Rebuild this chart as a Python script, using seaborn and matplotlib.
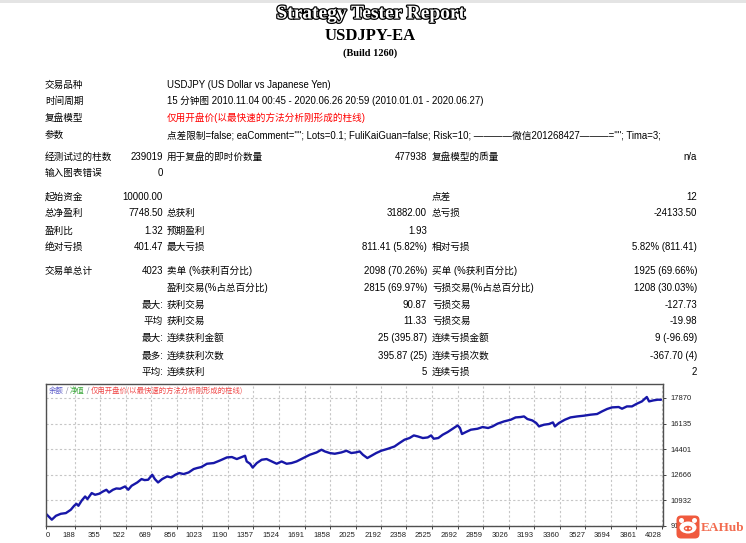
import pandas as pd
import matplotlib
matplotlib.use('Agg')
import matplotlib.pyplot as plt
import matplotlib.patheffects as pe
from matplotlib.patches import FancyBboxPatch, Ellipse, Circle, Rectangle
import seaborn as sns

# 报告表头
title = 'Strategy Tester Report'
ea_name = 'USDJPY-EA'
build = '(Build 1260)'

# 基本信息 (标签, 内容)
info_labels = ['交易品种', '时间周期', '复盘模型', '参数']
info_values = ['USDJPY (US Dollar vs Japanese Yen)',
               '15 分钟图 2010.11.04 00:45 - 2020.06.26 20:59 (2010.01.01 - 2020.06.27)',
               '仅用开盘价(以最快速的方法分析刚形成的柱线)',
               '点差限制=false; eaComment=""; Lots=0.1; FuliKaiGuan=false; Risk=10; ————微信201268427———=""; Tima=3;']

# 统计表 六列: 标签1, 数值1, 标签2, 数值2, 标签3, 数值3
stat_rows = [
    ['经测试过的柱数', '239019', '用于复盘的即时价数量', '477938', '复盘模型的质量', 'n/a'],
    ['输入图表错误', '0', '', '', '', ''],
    ['起始资金', '10000.00', '', '', '点差', '12'],
    ['总净盈利', '7748.50', '总获利', '31882.00', '总亏损', '-24133.50'],
    ['盈利比', '1.32', '预期盈利', '1.93', '', ''],
    ['绝对亏损', '401.47', '最大亏损', '811.41 (5.82%)', '相对亏损', '5.82% (811.41)'],
    ['交易单总计', '4023', '卖单 (%获利百分比)', '2098 (70.26%)', '买单 (%获利百分比)', '1925 (69.66%)'],
    ['', '', '盈利交易(%占总百分比)', '2815 (69.97%)', '亏损交易(%占总百分比)', '1208 (30.03%)'],
    ['', '最大:', '获利交易', '90.87', '亏损交易', '-127.73'],
    ['', '平均', '获利交易', '11.33', '亏损交易', '-19.98'],
    ['', '最大:', '连续获利金额', '25 (395.87)', '连续亏损金额', '9 (-96.69)'],
    ['', '最多:', '连续获利次数', '395.87 (25)', '连续亏损次数', '-367.70 (4)'],
    ['', '平均:', '连续获利', '5', '连续亏损', '2'],
]

# 余额曲线 (交易单序号, 余额) - 从图上读取
trade_no = [0, 38, 65, 97, 130, 162, 184, 199, 212, 234, 256, 271, 299, 321, 347, 373,
            395, 412, 438, 460, 485, 517, 538, 560, 597, 625, 645, 668, 695, 712, 733,
            760, 792, 820, 846, 872, 900, 933, 966, 988, 1016, 1053, 1097, 1139, 1183,
            1216, 1248, 1281, 1302, 1313, 1335, 1352, 1379, 1411, 1443, 1476, 1509,
            1541, 1574, 1606, 1639, 1683, 1726, 1770, 1802, 1824, 1856, 1889, 1932,
            1965, 1997, 2026, 2052, 2073, 2102, 2128, 2160, 2193, 2237, 2280, 2312,
            2345, 2378, 2406, 2432, 2465, 2497, 2519, 2536, 2566, 2595, 2628, 2660,
            2693, 2708, 2721, 2747, 2779, 2823, 2856, 2892, 2921, 2953, 2996, 3040,
            3072, 3105, 3127, 3149, 3181, 3207, 3225, 3257, 3290, 3316, 3329, 3355,
            3394, 3431, 3475, 3518, 3561, 3605, 3637, 3670, 3702, 3746, 3768, 3800,
            3833, 3865, 3898, 3930, 3945, 3973, 4002, 4023]
balance = [10000, 9600, 9864, 10000, 10048, 10272, 10544, 10680, 10544, 10905, 11177,
           11000, 11408, 11292, 11360, 11517, 11632, 11449, 11632, 11721, 11700, 11857,
           11632, 11904, 12129, 12360, 12290, 12312, 12652, 12360, 12129, 12360, 12537,
           12470, 12652, 12768, 12700, 12809, 13040, 13108, 13176, 13400, 13448, 13625,
           13829, 13856, 13720, 13856, 13944, 13557, 13400, 13140, 13448, 13672, 13720,
           13557, 13400, 13557, 13400, 13448, 13557, 13788, 14012, 14169, 14352, 14237,
           14128, 14080, 14169, 14284, 14128, 14169, 14237, 14012, 13788, 13944, 14128,
           14284, 14420, 14576, 14808, 15032, 15148, 15325, 15257, 15148, 15189, 15325,
           15100, 15148, 15372, 15556, 15780, 16005, 15828, 15420, 15556, 15712, 15780,
           15896, 15828, 15937, 16120, 16277, 16392, 16549, 16576, 16617, 16440, 16345,
           16168, 15937, 16052, 16100, 16209, 15937, 16168, 16392, 16549, 16617, 16665,
           16733, 16780, 16957, 17120, 17229, 17256, 17140, 17297, 17297, 17480, 17637,
           17936, 17637, 17705, 17753, 17748.5]

x_ticks = [0, 188, 355, 522, 689, 856, 1023, 1190, 1357, 1524, 1691, 1858, 2025, 2192,
           2358, 2525, 2692, 2859, 3026, 3193, 3360, 3527, 3694, 3861, 4028]
y_ticks = [9197, 10932, 12666, 14401, 16135, 17870]

legend_parts = [('余额', '#5656c8'), (' / ', '#7a7a9a'), ('净值', '#3aa83a'),
                (' / ', '#7a7a9a'), ('仅用开盘价(以最快速的方法分析刚形成的柱线)', '#f04848')]

W, H = 746, 543


def fx(x):
    return x / W


def fy(y):
    return 1 - y / H


sns.set_theme(style='white')
plt.rcParams['font.family'] = ['Liberation Sans', 'Noto Sans CJK SC', 'DejaVu Sans']

fig = plt.figure(figsize=(7.46, 5.43), dpi=100)
fig.patch.set_facecolor('white')

# 顶部浅灰边
fig.add_artist(Rectangle((0, 5.40), 7.46, 0.03, transform=fig.dpi_scale_trans,
                         color='#e4e4e4', lw=0))

# 标题
fig.text(fx(371), fy(14), title, ha='center', va='center', family='Liberation Serif',
         weight='bold', size=14, color='white',
         path_effects=[pe.withStroke(linewidth=1.8, foreground='black')])
fig.text(fx(370), fy(36.5), ea_name, ha='center', va='center', family='Liberation Serif',
         weight='bold', size=12, color='black')
fig.text(fx(370), fy(53), build, ha='center', va='center', family='Liberation Serif',
         weight='bold', size=7.5, color='black')


def put(x, y, s, ha='left', color='black'):
    fig.text(fx(x), fy(y + 3.6), s, ha=ha, va='baseline', fontsize=6.9, color=color)


info_y = [84.3, 100.8, 117.6, 134.8]
for lab, val, y in zip(info_labels, info_values, info_y):
    put(45, y, lab)
    put(167, y, val, color='#ff0000' if lab == '复盘模型' else 'black')

stat_y = [156, 172.7, 196, 212.8, 230, 246.8, 270, 287.3, 304, 320.8, 337.5, 355, 371.7]
col_x = [45, 163, 167, 427, 432, 697]
col_ha = ['left', 'right', 'left', 'right', 'left', 'right']
for row, y in zip(stat_rows, stat_y):
    for s, x, ha in zip(row, col_x, col_ha):
        if s:
            put(x, y, s, ha=ha)

# 余额曲线图
ax = fig.add_axes([fx(46), fy(526), (663.3 - 46) / W, (526 - 383.7) / H])
df = pd.DataFrame({'trade': trade_no, 'balance': balance})
sns.lineplot(data=df, x='trade', y='balance', ax=ax, color='#1717a8', linewidth=1.7)
ax.set_xlim(0, 4038)
ax.set_ylim(9170, 18840)
ax.set_xlabel('')
ax.set_ylabel('')
ax.set_xticks(x_ticks)
ax.set_xticklabels([str(v) for v in x_ticks], fontsize=5.5, family='Liberation Sans')
for i, t in enumerate(ax.get_xticklabels()):
    t.set_ha('left' if i == 0 else 'right')
ax.yaxis.tick_right()
ax.set_yticks(y_ticks)
ax.set_yticklabels([str(v) for v in y_ticks], fontsize=5.5, family='Liberation Sans')
ax.tick_params(axis='both', length=2, width=0.6, colors='#222222', pad=2)
ax.tick_params(axis='x', bottom=True)
ax.tick_params(axis='y', right=True, pad=3)
ax.grid(True, color='#c6c6c6', linestyle=(0, (2, 2)), linewidth=0.8)
for sp in ax.spines.values():
    sp.set_color('#505050')
    sp.set_linewidth(1.0)

# 图例文字
r = fig.canvas.get_renderer()
lx = 49
for s, c in legend_parts:
    t = fig.text(fx(lx), fy(390 + 2.6), s, color=c, fontsize=5.3, va='baseline',
                 family=['Noto Sans CJK SC', 'DejaVu Sans'])
    lx += t.get_window_extent(renderer=r).width

# 水印 EAHub
tr = fig.dpi_scale_trans
fig.add_artist(FancyBboxPatch((6.785, 0.065), 0.19, 0.19, transform=tr,
                              boxstyle='round,pad=0.02,rounding_size=0.045',
                              color='#f05a3e', lw=0, zorder=5))
fig.add_artist(Circle((6.815, 0.225), 0.025, transform=tr, color='white', lw=0, zorder=6))
fig.add_artist(Circle((6.945, 0.225), 0.025, transform=tr, color='white', lw=0, zorder=6))
fig.add_artist(Ellipse((6.88, 0.155), 0.17, 0.12, transform=tr, color='white', lw=0, zorder=6))
fig.add_artist(Ellipse((6.88, 0.145), 0.085, 0.055, transform=tr, color='#f05a3e', lw=0, zorder=7))
fig.add_artist(Circle((6.862, 0.145), 0.01, transform=tr, color='white', lw=0, zorder=8))
fig.add_artist(Circle((6.898, 0.145), 0.01, transform=tr, color='white', lw=0, zorder=8))
fig.text(fx(701), fy(528), 'EAHub', ha='left', va='center', family='Liberation Serif',
         weight='bold', size=9.5, color='#f26b4f')

fig.savefig('out.png', dpi=100)
